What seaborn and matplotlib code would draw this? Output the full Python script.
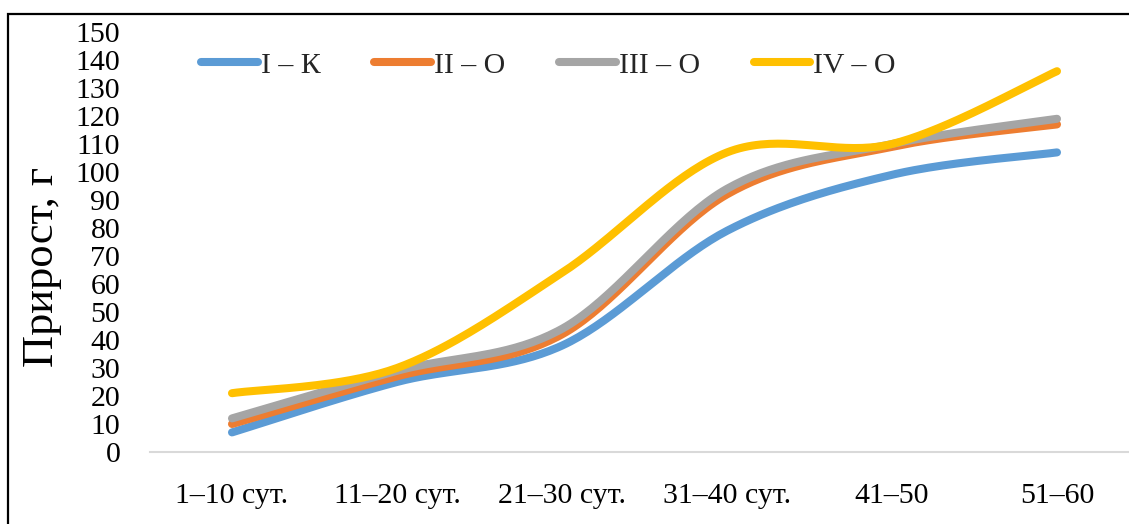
import numpy as np
import pandas as pd
import matplotlib
matplotlib.use('Agg')
import matplotlib.pyplot as plt
from matplotlib.patches import Rectangle
import seaborn as sns

# Chart data
periods = ['1–10 сут.', '11–20 сут.', '21–30 сут.', '31–40 сут.', '41–50', '51–60']
group_names = ['I – К', 'II – O', 'III – O', 'IV – O']
gain_I = [7, 25, 38, 79, 99, 107]
gain_II = [10, 27, 42, 92, 109, 117]
gain_III = [12, 29, 44, 94, 110, 119]
gain_IV = [21, 30, 64, 107, 110, 136]
colors = ['#5B9BD5', '#ED7D31', '#A5A5A5', '#FFC000']


def smooth_curve(xs, ys, n=40):
    # Excel-like "smoothed line": cubic Bezier through each point
    pts = np.column_stack([xs, ys]).astype(float)
    ext = np.vstack([pts[0], pts, pts[-1]])
    out = []
    for i in range(len(pts) - 1):
        p0, p3 = pts[i], pts[i + 1]
        c1 = p0 + (ext[i + 2] - ext[i]) / 6
        c2 = p3 - (ext[i + 3] - ext[i + 1]) / 6
        t = np.linspace(0, 1, n)[:, None]
        seg = ((1 - t) ** 3) * p0 + 3 * ((1 - t) ** 2) * t * c1 + 3 * (1 - t) * t ** 2 * c2 + t ** 3 * p3
        out.append(seg if i == 0 else seg[1:])
    return np.vstack(out)


sns.set_theme(style='white')
plt.rcParams['font.family'] = ['Liberation Serif', 'DejaVu Serif']
plt.rcParams['lines.solid_capstyle'] = 'round'

rows = []
x_idx = np.arange(len(periods))
for name, vals in zip(group_names, [gain_I, gain_II, gain_III, gain_IV]):
    curve = smooth_curve(x_idx, vals)
    for k, (cx, cy) in enumerate(curve):
        rows.append({'x': cx, 'y': cy, 'group': name, 'order': k})
df = pd.DataFrame(rows)

fig = plt.figure(figsize=(11.29, 5.24), dpi=100)
ax = fig.add_axes([149.5 / 1129, 72 / 524, 990 / 1129, 420 / 524])

sns.lineplot(data=df, x='x', y='y', hue='group', hue_order=group_names,
             palette=colors, sort=False, estimator=None, linewidth=5.8, ax=ax)

ax.set_xlim(-0.5, len(periods) - 0.5)
ax.set_ylim(0, 150)
ax.set_yticks(np.arange(0, 151, 10))
ax.set_xticks(x_idx)
ax.set_xticklabels(periods)
ax.tick_params(axis='y', length=0, pad=21, labelsize=21.5, colors='black')
ax.tick_params(axis='x', length=0, pad=22, labelsize=21.5, colors='black')
ax.set_xlabel('')
ax.set_ylabel('Прирост, г', fontsize=32, color='black')
ax.yaxis.set_label_coords(-0.088, 0.44)

for side in ['top', 'right', 'left']:
    ax.spines[side].set_visible(False)
ax.spines['bottom'].set_color('#D9D9D9')
ax.spines['bottom'].set_linewidth(1.5)
ax.grid(False)

h, l = ax.get_legend_handles_labels()
ax.legend(h, l, ncol=4, loc='center', bbox_to_anchor=(0.403, 0.921), frameon=False,
          fontsize=21.5, handlelength=1.9, handletextpad=0.1, columnspacing=1.8)

# outer chart frame (cropped on right and bottom)
fig.add_artist(Rectangle((8 / 1129, -0.2), 1.5, (524 - 14) / 524 + 0.2,
                         transform=fig.transFigure, fill=False, edgecolor='black', linewidth=1.6))

fig.savefig('out.png', dpi=100)
